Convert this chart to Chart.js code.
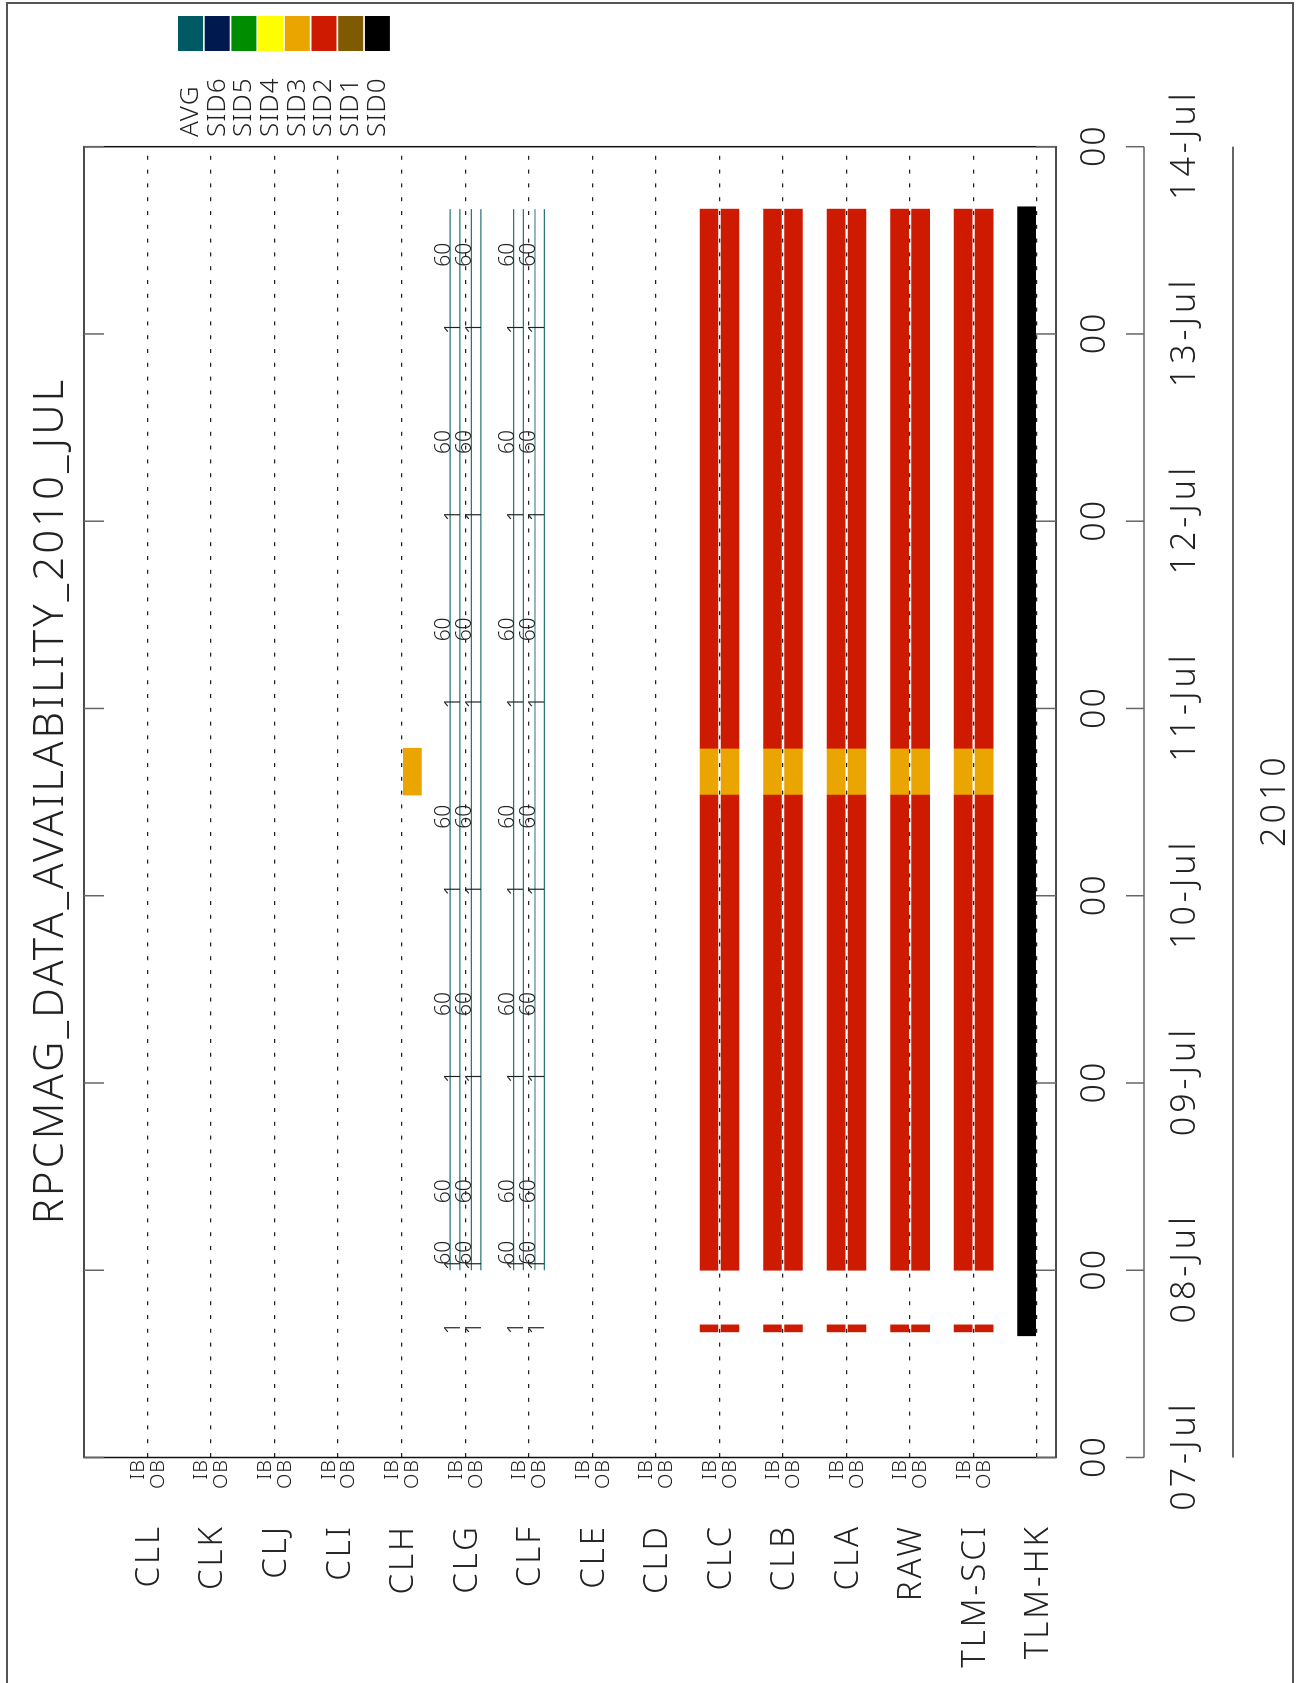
<!DOCTYPE html>
<html>
<head>
<meta charset="utf-8">
<title>RPCMAG_DATA_AVAILABILITY_2010_JUL</title>
<script src="https://cdn.jsdelivr.net/npm/chart.js@4.4.0/dist/chart.umd.min.js"></script>
<style>
  html, body { margin: 0; padding: 0; background: #fff; overflow: hidden; }
  /* the plot is drawn landscape and turned a quarter turn, like the original printout */
  #page { position: absolute; left: 0; top: 0; width: 1683px; height: 1303px;
          transform-origin: 0 0; transform: translateY(1683px) rotate(-90deg); background: #fff; }
</style>
</head>
<body>
<div id="page"><canvas id="myChart" width="1683" height="1303"></canvas></div>
<script>
const title = 'RPCMAG_DATA_AVAILABILITY_2010_JUL';
const rows = ['CLL','CLK','CLJ','CLI','CLH','CLG','CLF','CLE','CLD','CLC','CLB','CLA','RAW','TLM-SCI','TLM-HK'];
const subRows = ['IB','OB'];

// time axis, hours since 07-Jul 00:00
const dayTicks = [0, 24, 48, 72, 96, 120, 144, 168];
const hourLabels = ['00','00','00','00','00','00','00','00'];
const dayLabels = ['07-Jul','08-Jul','09-Jul','10-Jul','11-Jul','12-Jul','13-Jul','14-Jul'];
const yearLabel = '2010';

const legendNames = ['AVG','SID6','SID5','SID4','SID3','SID2','SID1','SID0'];
const legendColors = ['#005a64','#001a50','#008c00','#ffff00','#eba500','#cd1a00','#7f5a00','#000000'];

// availability spans [start, end] in hours
const sciRows = ['CLC','CLB','CLA','RAW','TLM-SCI'];
const sid2Spans = [[16.1, 17.0], [24, 84.9], [90.9, 160.0]];
const sid3Spans = [[84.9, 90.9]];
const sid3ObOnlyRows = ['CLH'];
const hkRows = ['TLM-HK'];
const hkSpans = [[15.6, 160.3]];
const avgRows = ['CLG','CLF'];
const avgSpan = [24, 160];
const rate1Times = [15.8, 24, 48, 72, 96, 120, 144];
const rate60Times = [24.7, 32.6, 56.6, 80.6, 104.6, 128.6, 152.6];

const IB = -0.162, OB = 0.168;                    // sub-row offsets (row units)
const AVG_LINES = [-0.236, -0.085, 0.099, 0.246]; // thin AVG traces
const FONT = '"Noto Sans", "Liberation Sans", Arial, sans-serif';
const INK = '#222';

function spanData(rowList, spans, off) {
  const out = [];
  rowList.forEach(r => spans.forEach(s => out.push({ x: s, y: rows.indexOf(r) + off })));
  return out;
}

function barSet(label, data, color) {
  return { type: 'bar', label: label, data: data, backgroundColor: color, borderWidth: 0,
           barThickness: 18, grouped: false };
}

const datasets = [
  barSet('SID2 IB', spanData(sciRows, sid2Spans, IB), legendColors[5]),
  barSet('SID2 OB', spanData(sciRows, sid2Spans, OB), legendColors[5]),
  barSet('SID3 IB', spanData(sciRows, sid3Spans, IB), legendColors[4]),
  barSet('SID3 OB', spanData(sciRows.concat(sid3ObOnlyRows), sid3Spans, OB), legendColors[4]),
  barSet('SID0', spanData(hkRows, hkSpans, IB), legendColors[7])
];
avgRows.forEach(r => {
  AVG_LINES.forEach(off => {
    const yv = rows.indexOf(r) + off;
    datasets.push({ type: 'line', label: 'AVG ' + r, data: [{ x: avgSpan[0], y: yv }, { x: avgSpan[1], y: yv }],
                    borderColor: '#2a7678', borderWidth: 1.2, pointRadius: 0, fill: false });
  });
});

// spacing widens the text a bit, the plotter font runs wide
function text(ctx, str, x, y, size, align, base, spacing) {
  ctx.font = '300 ' + size + 'px ' + FONT;
  ctx.letterSpacing = (spacing || 0) + 'px';
  ctx.textAlign = align;
  ctx.textBaseline = base;
  const shift = align === 'center' ? (spacing || 0) / 2 : align === 'right' ? (spacing || 0) : 0;
  ctx.fillText(str, x + shift, y);
}

const overlay = {
  id: 'overlay',
  afterDraw(chart) {
    const { ctx, chartArea: a } = chart;
    const x = chart.scales.x, y = chart.scales.y;
    ctx.save();
    ctx.fillStyle = INK;

    // rate labels on the AVG traces
    avgRows.forEach(r => {
      const i = rows.indexOf(r);
      rate60Times.forEach(t => {
        text(ctx, '60', x.getPixelForValue(t), y.getPixelForValue(i + AVG_LINES[0]), 21, 'left', 'alphabetic');
        text(ctx, '60', x.getPixelForValue(t), y.getPixelForValue(i + AVG_LINES[2]), 21, 'left', 'alphabetic');
      });
      rate1Times.forEach(t => {
        text(ctx, '1', x.getPixelForValue(t), y.getPixelForValue(i + AVG_LINES[1]), 21, 'left', 'alphabetic');
        text(ctx, '1', x.getPixelForValue(t), y.getPixelForValue(i + AVG_LINES[3]), 21, 'left', 'alphabetic');
      });
    });

    // frame and inner day ticks
    ctx.strokeStyle = '#111';
    ctx.lineWidth = 1.5;
    ctx.strokeRect(a.left, a.top, a.right - a.left, a.bottom - a.top);
    ctx.strokeStyle = '#666';
    ctx.beginPath();
    dayTicks.forEach(t => {
      const px = x.getPixelForValue(t);
      ctx.moveTo(px, a.top); ctx.lineTo(px, a.top + 20);
      ctx.moveTo(px, a.bottom - 20); ctx.lineTo(px, a.bottom);
    });
    ctx.stroke();

    // detached time axis below the plot
    const axY = a.bottom + 88;
    ctx.beginPath();
    ctx.moveTo(a.left, axY); ctx.lineTo(a.right, axY);
    dayTicks.forEach(t => {
      const px = x.getPixelForValue(t);
      ctx.moveTo(px, axY - 18); ctx.lineTo(px, axY);
    });
    ctx.stroke();
    dayTicks.forEach((t, k) => {
      const px = x.getPixelForValue(t);
      text(ctx, hourLabels[k], px, a.bottom + 39, 34, 'center', 'middle', 2);
      text(ctx, dayLabels[k], px, a.bottom + 129, 34, 'center', 'middle', 4);
    });
    ctx.strokeStyle = '#333';
    ctx.beginPath();
    ctx.moveTo(a.left, a.bottom + 177); ctx.lineTo(a.right, a.bottom + 177);
    ctx.stroke();
    text(ctx, yearLabel, (a.left + a.right) / 2, a.bottom + 219, 34, 'center', 'middle', 4);

    // row names and IB / OB tags
    rows.forEach((r, i) => {
      const py = y.getPixelForValue(i);
      text(ctx, r, a.left - 69.5, py + 2, 33, 'right', 'middle', 3);
      if (r !== 'TLM-HK') {
        text(ctx, subRows[0], a.left - 2.5, y.getPixelForValue(i + IB) + 1, 20, 'right', 'middle', 1);
        text(ctx, subRows[1], a.left - 2.5, y.getPixelForValue(i + OB), 20, 'right', 'middle', 1);
      }
    });

    // title
    text(ctx, title, (a.left + a.right) / 2, 63, 42, 'center', 'alphabetic', 3);

    // colour key
    legendNames.forEach((n, k) => {
      const top = 178 + k * 26.7;
      ctx.fillStyle = legendColors[k];
      ctx.fillRect(1632, top, 35, 25);
      ctx.fillStyle = INK;
      text(ctx, n, 1546, top + 12.5, 26, 'left', 'middle', 1);
    });

    // outer page border
    ctx.strokeStyle = '#555';
    ctx.lineWidth = 2;
    ctx.beginPath();
    ctx.moveTo(-2, 7); ctx.lineTo(1680, 7); ctx.lineTo(1680, 1293); ctx.lineTo(-2, 1293);
    ctx.stroke();
    ctx.restore();
  }
};

const ctx = document.getElementById('myChart');
const myChart = new Chart(ctx, {
  type: 'bar',
  data: { datasets: datasets },
  options: {
    indexAxis: 'y',
    responsive: false,
    animation: false,
    devicePixelRatio: 1,
    layout: { padding: { left: 225.5, right: 146.7, top: 84, bottom: 247 } },
    plugins: { legend: { display: false }, tooltip: { enabled: false } },
    scales: {
      x: { type: 'linear', min: 0, max: 168, display: false, offset: false },
      y: {
        type: 'linear', min: -1, max: 14.3, reverse: true, offset: false,
        afterBuildTicks: axis => { axis.ticks = rows.map((r, i) => ({ value: i })); },
        ticks: { display: false },
        grid: { drawTicks: false, offset: false, color: '#222', lineWidth: 1.3 },
        border: { display: false, dash: [4, 9.8] }
      }
    }
  },
  plugins: [overlay]
});
</script>
</body>
</html>
